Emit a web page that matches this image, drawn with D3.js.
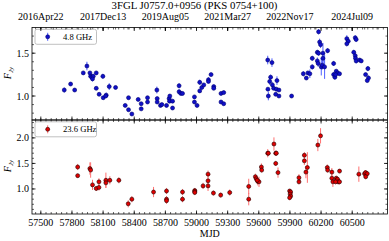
<!DOCTYPE html>
<html>
<head>
<meta charset="utf-8">
<script src="https://cdn.jsdelivr.net/npm/d3@7"></script>
<style>
body { margin: 0; background: #fff; }
text { font-family: "Liberation Serif", "DejaVu Serif", serif; }
</style>
</head>
<body>
<div id="chart"></div>
<script>
// 4.8 GHz light curve
var mjd48 = [57726,57787,57826,57909,57944,57973,57980,57992,58005,57998,58034,58034,58062,58098,58101,58130,58125,58159,58220,
  58313,58345,58345,58377,58438,58467,58467,58528,58528,58618,58621,58621,58653,58666,58711,58736,58740,58743,58769,58769,
  58832,58832,58849,58865,58980,58980,59005,59031,59051,59031,59070,59115,59115,59140,59166,59166,59236,59262,59236,59262,
  59686,59727,59714,59705,59688,59731,59743,59775,59769,59692,59763,59794,59794,59916,
  60029,60058,60073,60092,60115,60115,60164,60176,60176,60186,60195,60164,60172,60202,60212,60218,60218,60234,60263,
  60321,60321,60333,60346,60359,60378,60340,60448,60462,60448,60529,60538,60515,60529,60532,60538,60571,60587,
  60651,60629,60657,60645];
var flux48 = [1.07,1.14,1.07,1.27,1.35,1.27,1.23,1.22,1.23,1.20,1.27,1.09,1.02,1.23,0.98,1.01,1.00,1.11,1.10,
  0.89,0.98,0.84,0.79,0.96,0.91,0.85,0.98,0.93,1.07,0.97,0.93,0.89,0.90,0.89,0.97,0.94,1.00,0.94,0.86,
  1.12,1.05,1.03,1.03,0.99,0.93,0.89,1.06,1.10,1.16,1.13,1.19,1.17,1.25,1.11,1.09,1.03,1.04,0.93,0.91,
  1.42,1.39,1.22,1.17,1.08,1.13,1.09,1.18,1.08,1.00,1.02,1.07,1.00,1.00,
  1.26,1.21,1.27,1.26,1.34,1.44,1.51,1.50,1.75,1.63,1.60,1.41,1.38,1.34,1.36,1.50,1.44,1.34,1.53,
  1.38,1.25,1.22,1.29,1.27,1.26,1.25,1.67,1.64,1.61,1.68,1.66,1.51,1.47,1.44,1.41,1.42,1.41,
  1.32,1.25,1.21,1.18];
var err48 = [0.03,0.02,0.02,0.02,0.05,0.02,0.03,0.04,0.03,0.03,0.02,0.02,0.02,0.03,0.02,0.03,0.02,0.04,0.02,
  0.02,0.02,0.02,0.02,0.02,0.02,0.02,0.02,0.02,0.04,0.02,0.02,0.02,0.02,0.02,0.02,0.02,0.02,0.02,0.02,
  0.03,0.03,0.02,0.02,0.02,0.02,0.02,0.02,0.02,0.03,0.02,0.03,0.02,0.02,0.02,0.02,0.02,0.02,0.02,0.02,
  0.05,0.05,0.03,0.04,0.02,0.03,0.02,0.05,0.02,0.05,0.02,0.02,0.02,0.02,
  0.03,0.02,0.02,0.05,0.03,0.03,0.03,0.03,0.03,0.04,0.04,0.04,0.04,0.10,0.05,0.12,0.06,0.14,0.03,
  0.03,0.03,0.03,0.02,0.02,0.02,0.02,0.04,0.04,0.03,0.03,0.03,0.03,0.03,0.03,0.03,0.02,0.02,
  0.03,0.02,0.03,0.02];

// 23.6 GHz light curve
var mjd236 = [57855,57855,57973,57980,57998,58034,58060,58060,58127,58127,58165,58252,58342,58377,58586,58711,58711,58711,
  58865,58865,58983,58983,58983,59063,59111,59111,59111,59163,59233,59320,59503,59503,
  59567,59575,59590,59602,59585,59625,59628,59686,59692,59746,59763,59769,59763,59785,
  59897,59907,59902,59907,59897,59987,59987,60039,60039,60054,60068,60169,60195,
  60260,60263,60304,60304,60314,60346,60350,60359,60378,60365,60378,60340,60564,60619,60629,60645,60630];
var flux236 = [1.43,1.26,1.40,1.37,1.08,1.01,1.14,1.03,1.17,1.12,1.17,1.17,0.71,0.80,0.94,0.96,0.80,0.77,
  0.94,0.80,0.97,0.95,0.93,1.06,1.29,1.16,1.06,0.92,0.88,0.93,1.05,0.80,
  1.24,1.20,1.15,1.14,1.17,1.43,1.37,1.70,1.70,1.88,1.70,1.70,1.50,1.32,
  0.96,0.94,0.90,0.86,0.83,1.22,1.14,1.66,1.55,1.33,1.42,1.86,2.04,
  1.42,1.37,1.33,1.21,1.14,1.21,1.17,1.19,1.35,1.14,1.14,1.14,1.29,1.30,1.32,1.30,1.24];
var err236 = [0.06,0.04,0.12,0.15,0.10,0.05,0.07,0.06,0.15,0.10,0.08,0.06,0.07,0.06,0.10,0.06,0.06,0.06,
  0.06,0.06,0.05,0.05,0.05,0.06,0.07,0.08,0.10,0.05,0.05,0.06,0.15,0.12,
  0.06,0.05,0.08,0.10,0.07,0.07,0.05,0.08,0.05,0.13,0.05,0.05,0.05,0.10,
  0.04,0.05,0.05,0.05,0.05,0.07,0.05,0.06,0.08,0.12,0.30,0.12,0.15,
  0.06,0.05,0.08,0.08,0.10,0.05,0.05,0.05,0.04,0.05,0.05,0.05,0.15,0.06,0.05,0.05,0.05];

var mjdTicks = [57500,57800,58100,58400,58700,59000,59300,59600,59900,60200,60500];
var dateTicks = [57500,58100,58700,59300,59900,60500];
var dateLabels = ["2016Apr22","2017Dec13","2019Aug05","2021Mar27","2022Nov17","2024Jul09"];

var width = 389, height = 241;
var left = 32, right = 387.5;
var topY = 27.5, midY = 120, botY = 214;

var svg = d3.select("#chart").append("svg")
  .attr("width", width)
  .attr("height", height);

var x = d3.scaleLinear().domain([57415, 60840]).range([left, right]);
var yTop = d3.scaleLinear().domain([0.72, 1.80]).range([midY, topY]);
var yBot = d3.scaleLinear().domain([0.51, 2.35]).range([botY, midY]);

var minorX = d3.range(57450, 60840, 50);

function xTicks(g, y0, dir) {
  // minor + major ticks on a horizontal spine, dir -1 = up, 1 = down
  g.selectAll(null).data(minorX).enter().append("line")
    .attr("x1", function(d) { return x(d); }).attr("x2", function(d) { return x(d); })
    .attr("y1", y0).attr("y2", y0 + dir * 2)
    .attr("stroke", "#000").attr("stroke-width", 0.6);
  g.selectAll(null).data(mjdTicks).enter().append("line")
    .attr("x1", function(d) { return x(d); }).attr("x2", function(d) { return x(d); })
    .attr("y1", y0).attr("y2", y0 + dir * 3.5)
    .attr("stroke", "#000").attr("stroke-width", 0.8);
}

function yTicks(g, y, majors, minors) {
  [left, right].forEach(function(x0, k) {
    var dir = k == 0 ? 1 : -1;
    g.selectAll(null).data(minors).enter().append("line")
      .attr("x1", x0).attr("x2", x0 + dir * 2)
      .attr("y1", function(d) { return y(d); }).attr("y2", function(d) { return y(d); })
      .attr("stroke", "#000").attr("stroke-width", 0.6);
    g.selectAll(null).data(majors).enter().append("line")
      .attr("x1", x0).attr("x2", x0 + dir * 3.5)
      .attr("y1", function(d) { return y(d); }).attr("y2", function(d) { return y(d); })
      .attr("stroke", "#000").attr("stroke-width", 0.8);
  });
  g.selectAll(null).data(majors).enter().append("text")
    .attr("x", left - 3).attr("y", function(d) { return y(d) + 3.5; })
    .attr("text-anchor", "end").attr("font-size", 10)
    .text(d3.format(".1f"));
}

function panel(y, mjd, flux, err, fill, edge, ecol, y0, y1, majors, minors, legendText, ylabY) {
  var g = svg.append("g");
  g.selectAll("line.err").data(mjd).enter().append("line")
    .attr("class", "err")
    .attr("x1", function(d) { return x(d); }).attr("x2", function(d) { return x(d); })
    .attr("y1", function(d, i) { return y(flux[i] - err[i]); })
    .attr("y2", function(d, i) { return y(flux[i] + err[i]); })
    .attr("stroke", ecol).attr("stroke-width", 1);
  g.selectAll("circle").data(mjd).enter().append("circle")
    .attr("cx", function(d) { return x(d); })
    .attr("cy", function(d, i) { return y(flux[i]); })
    .attr("r", 2)
    .attr("fill", fill).attr("stroke", edge).attr("stroke-width", 0.6);

  g.append("rect").attr("x", left).attr("y", y1).attr("width", right - left).attr("height", y0 - y1)
    .attr("fill", "none").attr("stroke", "#000").attr("stroke-width", 0.8);
  xTicks(g, y0, -1);
  xTicks(g, y1, 1);
  yTicks(g, y, majors, minors);

  // legend
  var ly = y1 + 1.8;
  g.append("rect").attr("x", 35).attr("y", ly).attr("width", 61.5).attr("height", 15)
    .attr("rx", 2).attr("fill", "#fff").attr("stroke", "#b0b0b0").attr("stroke-width", 0.8);
  g.append("line").attr("x1", 47.7).attr("x2", 47.7).attr("y1", ly + 3.5).attr("y2", ly + 11.5)
    .attr("stroke", ecol).attr("stroke-width", 1);
  g.append("circle").attr("cx", 47.7).attr("cy", ly + 7.5).attr("r", 2)
    .attr("fill", fill).attr("stroke", edge).attr("stroke-width", 0.6);
  g.append("text").attr("x", 63).attr("y", ly + 10.3).attr("font-size", 8.6).text(legendText);

  var t = g.append("text").attr("transform", "translate(11," + ylabY + ") rotate(-90)")
    .attr("text-anchor", "middle").attr("font-size", 10);
  t.append("tspan").attr("font-style", "italic").text("F");
  t.append("tspan").attr("font-style", "italic").attr("font-size", 7).attr("dy", 2).text("Jy");
}

panel(yTop, mjd48, flux48, err48, "#1010c8", "#000070", "#5060ff", midY, topY,
  [1.0, 1.5], d3.range(0.8, 1.8, 0.1).map(function(d) { return +d.toFixed(1); }), "4.8 GHz", 73);
panel(yBot, mjd236, flux236, err236, "#e00000", "#200000", "#ff7070", botY, midY,
  [1.0, 1.5, 2.0], d3.range(0.6, 2.35, 0.1).map(function(d) { return +d.toFixed(1); }), "23.6 GHz", 166);

// bottom MJD labels
svg.selectAll("text.mjd").data(mjdTicks).enter().append("text")
  .attr("class", "mjd")
  .attr("x", function(d) { return x(d); }).attr("y", botY + 12)
  .attr("text-anchor", "middle").attr("font-size", 10)
  .text(function(d) { return d; });
svg.append("text").attr("x", (left + right) / 2).attr("y", 236.5)
  .attr("text-anchor", "middle").attr("font-size", 10).text("MJD");

// top date axis
svg.selectAll("line.dminor").data(d3.range(57500 - 600, 60840, 120).filter(function(d) { return d > 57415; }))
  .enter().append("line").attr("class", "dminor")
  .attr("x1", function(d) { return x(d); }).attr("x2", function(d) { return x(d); })
  .attr("y1", topY).attr("y2", topY + 2)
  .attr("stroke", "#000").attr("stroke-width", 0.6);
svg.selectAll("line.dmajor").data(dateTicks).enter().append("line").attr("class", "dmajor")
  .attr("x1", function(d) { return x(d); }).attr("x2", function(d) { return x(d); })
  .attr("y1", topY).attr("y2", topY + 3.5)
  .attr("stroke", "#000").attr("stroke-width", 0.8);
svg.selectAll("text.date").data(dateTicks).enter().append("text").attr("class", "date")
  .attr("x", function(d) { return x(d); }).attr("y", 20)
  .attr("text-anchor", "middle").attr("font-size", 10)
  .text(function(d, i) { return dateLabels[i]; });

svg.append("text").attr("x", 194.5).attr("y", 8.8)
  .attr("text-anchor", "middle").attr("font-size", 10.8)
  .text("3FGL J0757.0+0956 (PKS 0754+100)");
</script>
</body>
</html>
